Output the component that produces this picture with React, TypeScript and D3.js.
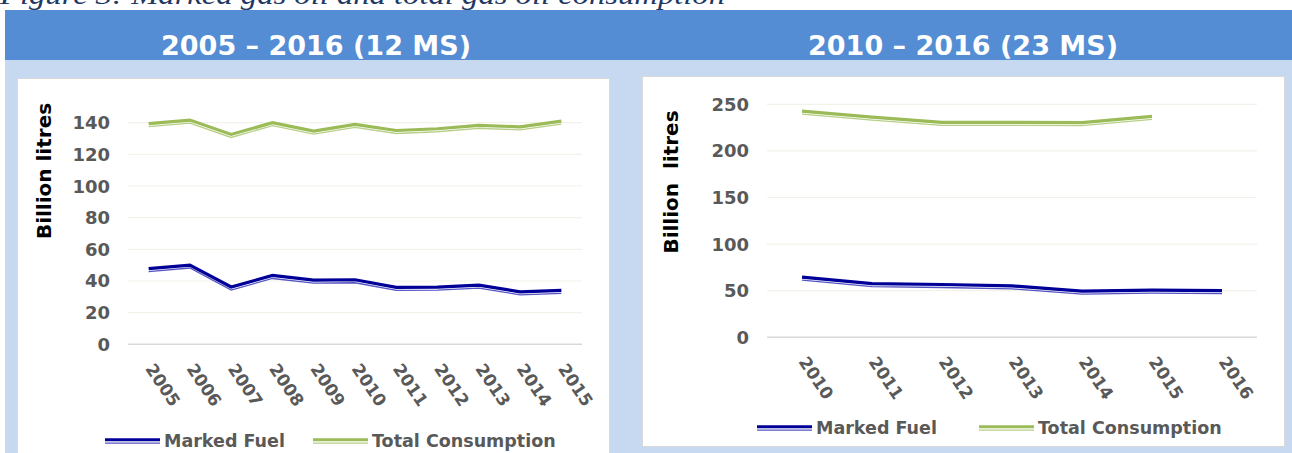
import React, { useEffect, useRef } from "react";
import * as d3 from "d3";

// left panel: 12 member states, 2005-2015
const yearsLeft = ["2005", "2006", "2007", "2008", "2009", "2010", "2011", "2012", "2013", "2014", "2015"];
const markedLeft = [47.4, 49.7, 35.8, 43.1, 40.2, 40.4, 35.6, 35.8, 37.0, 32.8, 33.7];
const totalLeft = [139.0, 141.3, 132.2, 139.6, 134.3, 138.5, 134.7, 135.8, 137.9, 137.0, 140.6];
const ticksLeft = [0, 20, 40, 60, 80, 100, 120, 140];

// right panel: 23 member states, 2010-2016
const yearsRight = ["2010", "2011", "2012", "2013", "2014", "2015", "2016"];
const markedRight = [64, 57, 56, 54.5, 49, 50, 49.5];
const totalRight = [242, 235.5, 230, 230, 229.8, 236.5, null];
const ticksRight = [0, 50, 100, 150, 200, 250];

const seriesNames = ["Marked Fuel", "Total Consumption"];
const seriesColors = ["#000099", "#9bbb59"];
const seriesThin = ["#5555c4", "#b7cf86"];

const FONT = "'DejaVu Sans', Verdana, sans-serif";

function drawPanel(svg: any, o: any) {
  const g = svg.append("g");
  const x = d3.scaleBand().domain(o.years).range(o.xRange);
  const y = d3.scaleLinear().domain([0, o.ticks[o.ticks.length - 1]]).range(o.yRange);
  const cx = (d: string) => (x(d) as number) + x.bandwidth() / 2;

  // grid
  g.selectAll(".grid").data(o.ticks).join("line")
    .attr("x1", o.xRange[0]).attr("x2", o.xRange[1])
    .attr("y1", (d: number) => y(d)).attr("y2", (d: number) => y(d))
    .attr("stroke", (d: number) => (d === 0 ? "#d9d9d9" : "#f2f2ea"))
    .attr("stroke-width", (d: number) => (d === 0 ? 1.6 : 1.2));

  g.selectAll(".ytick").data(o.ticks).join("text")
    .attr("x", o.xRange[0] - 18).attr("y", (d: number) => y(d))
    .attr("text-anchor", "end").attr("dominant-baseline", "central")
    .style("font", `bold 18px ${FONT}`).attr("fill", "#595959")
    .text((d: number) => d);

  g.append("text")
    .attr("transform", `translate(${o.titleX},${o.titleY}) rotate(-90)`)
    .attr("text-anchor", "middle").attr("dominant-baseline", "central")
    .style("font", `bold 20px ${FONT}`).style("white-space", "pre").attr("fill", "#000")
    .text(o.yTitle);

  const base = o.yRange[0];
  g.selectAll(".xtick").data(o.years).join("text")
    .attr("transform", (d: string) => `translate(${cx(d) + 1},${base + 21}) rotate(56)`)
    .attr("dominant-baseline", "central")
    .style("font", `bold 17px ${FONT}`).attr("fill", "#595959")
    .text((d: string) => d);

  const series = [o.marked, o.total];
  series.forEach((vals: (number | null)[], i: number) => {
    const pts = o.years.map((yr: string, j: number) => ({ yr, v: vals[j] }));
    const line = d3.line<any>().defined((d) => d.v != null).x((d) => cx(d.yr)).y((d) => y(d.v));
    g.append("path").attr("d", line(pts)).attr("transform", "translate(0,2.4)")
      .attr("fill", "none").attr("stroke", seriesThin[i]).attr("stroke-width", 1.3);
    g.append("path").attr("d", line(pts)).attr("transform", "translate(0,-0.6)")
      .attr("fill", "none").attr("stroke", seriesColors[i]).attr("stroke-width", 3.2);
  });

  // legend
  const leg = g.selectAll(".leg").data(seriesNames).join("g")
    .attr("transform", (d: string, i: number) => `translate(${o.legendX[i]},${o.legendY})`);
  leg.append("line").attr("x1", 0).attr("x2", 55).attr("y1", -1.2).attr("y2", -1.2)
    .attr("stroke", (d: string, i: number) => seriesColors[i]).attr("stroke-width", 3);
  leg.append("line").attr("x1", 0).attr("x2", 55).attr("y1", 2.2).attr("y2", 2.2)
    .attr("stroke", (d: string, i: number) => seriesThin[i]).attr("stroke-width", 1.2);
  leg.append("text").attr("x", 59).attr("y", 0).attr("dominant-baseline", "central")
    .style("font", `bold 17.5px ${FONT}`).attr("fill", "#595959")
    .text((d: string) => d);
}

export default function App() {
  const ref = useRef<SVGSVGElement>(null);

  useEffect(() => {
    const svg = d3.select(ref.current);
    svg.selectAll("*").remove();

    svg.append("rect").attr("width", 1292).attr("height", 453).attr("fill", "#fff");
    svg.append("text").attr("x", 0).attr("y", 4)
      .attr("textLength", 725).attr("lengthAdjust", "spacingAndGlyphs")
      .style("font", "italic 28px 'Liberation Serif', serif").attr("fill", "#1f3864")
      .text("Figure 3: Marked gas oil and total gas oil consumption");

    svg.append("rect").attr("x", 5).attr("y", 10).attr("width", 1287).attr("height", 50).attr("fill", "#548dd4");
    svg.append("rect").attr("x", 5).attr("y", 60).attr("width", 1287).attr("height", 393).attr("fill", "#c6d9f1");

    svg.selectAll(".hdr").data(["2005 – 2016 (12 MS)", "2010 – 2016 (23 MS)"]).join("text")
      .attr("x", (d, i) => (i === 0 ? 316 : 963)).attr("y", 55)
      .attr("text-anchor", "middle").style("font", `bold 27px ${FONT}`).attr("fill", "#fff")
      .text((d) => d);

    svg.append("rect").attr("x", 17.5).attr("y", 78.5).attr("width", 592).attr("height", 390)
      .attr("fill", "#fff").attr("stroke", "#d9d9d9");
    svg.append("rect").attr("x", 642.5).attr("y", 76.5).attr("width", 642).attr("height", 370)
      .attr("fill", "#fff").attr("stroke", "#d9d9d9");

    drawPanel(svg, {
      years: yearsLeft, marked: markedLeft, total: totalLeft, ticks: ticksLeft,
      xRange: [128, 582], yRange: [344.3, 122.7],
      yTitle: "Billion litres", titleX: 44, titleY: 171,
      legendX: [105, 313], legendY: 441,
    });
    drawPanel(svg, {
      years: yearsRight, marked: markedRight, total: totalRight, ticks: ticksRight,
      xRange: [767, 1257], yRange: [337.3, 104.3],
      yTitle: "Billion  litres", titleX: 671, titleY: 182,
      legendX: [757, 979], legendY: 428,
    });
  }, []);

  return (
    <div style={{ position: "absolute", left: 0, top: 0 }}>
      <svg ref={ref} width={1292} height={453} style={{ display: "block" }} />
    </div>
  );
}
